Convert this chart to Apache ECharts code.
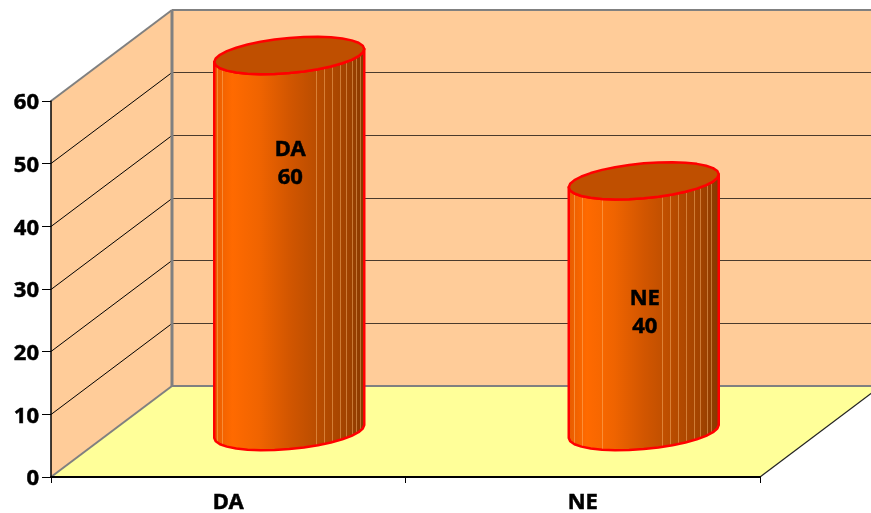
<!DOCTYPE html>
<html>
<head>
<meta charset="utf-8">
<style>html,body{margin:0;padding:0;background:#fff}#chart{width:871px;height:513px}</style>
<script src="https://cdn.jsdelivr.net/npm/echarts@6/dist/echarts.min.js"></script>
</head>
<body>
<div id="chart"></div>
<script>
// Chart values
const categories = ['DA', 'NE'];
const values = [60, 40];
const yTicks = [0, 10, 20, 30, 40, 50, 60];

// Projection of the box depth, and cylinder shape, in pixels
const DEPTH_X = 121, DEPTH_Y = -91;
const RX = 75, RY = 17.5, TILT = 6.5;
const FONT = '"Noto Sans", "Open Sans", sans-serif';

// Height on the value scale at which each data label sits
const labelLevels = [42.8, 18.9];
// Pale facet seams on the side of each cylinder, as offsets from its axis
const seams = [
  [-72, -67, 27, 35, 43, 51, 57, 63, 67, 71],
  [-70, -62, -42, 18, 26, 34, 42, 50, 56, 63, 67]
];
const sideStops = [
  [0, '#E85C00'], [0.12, '#FF6A00'], [0.3, '#F06400'], [0.5, '#D25600'],
  [0.7, '#B84C00'], [0.9, '#A04200'], [1, '#863800']
];

function wallsItem(params, api) {
  const rect = params.coordSys;
  const xL = rect.x, xR = rect.x + rect.width;
  const y0 = api.coord([0, 0])[1], yT = api.coord([0, yTicks[yTicks.length - 1]])[1];
  const line = (a, b, c, d, stroke, w) => ({
    type: 'line', shape: { x1: a, y1: b, x2: c, y2: d }, style: { stroke, lineWidth: w }
  });
  const poly = (points, fill) => ({
    type: 'polygon', shape: { points }, style: { fill, stroke: 'none' }
  });
  const children = [
    poly([[xL, y0], [xL, yT], [xL + DEPTH_X, yT + DEPTH_Y], [xL + DEPTH_X, y0 + DEPTH_Y]], '#FFCC99'),
    poly([[xL + DEPTH_X, yT + DEPTH_Y], [xR + DEPTH_X, yT + DEPTH_Y], [xR + DEPTH_X, y0 + DEPTH_Y], [xL + DEPTH_X, y0 + DEPTH_Y]], '#FFCC99'),
    poly([[xL, y0], [xR, y0], [xR + DEPTH_X, y0 + DEPTH_Y], [xL + DEPTH_X, y0 + DEPTH_Y]], '#FFFF99')
  ];
  yTicks.slice(1, -1).forEach(t => {
    const y = Math.floor(api.coord([0, t])[1]) + 0.5;
    children.push(line(xL, y, xL + DEPTH_X, y + DEPTH_Y, '#000', 1));
    children.push(line(xL + DEPTH_X, y + DEPTH_Y, xR + DEPTH_X, y + DEPTH_Y, '#4a3a2c', 1));
  });
  children.push(
    line(xL, yT, xL + DEPTH_X, yT + DEPTH_Y, '#808080', 2),
    line(xL, y0, xL + DEPTH_X, y0 + DEPTH_Y, '#808080', 2),
    line(xL + DEPTH_X, yT + DEPTH_Y, xL + DEPTH_X, y0 + DEPTH_Y, '#808080', 3),
    line(xL + DEPTH_X, yT + DEPTH_Y, xR + DEPTH_X, yT + DEPTH_Y, '#808080', 2),
    line(xL + DEPTH_X, y0 + DEPTH_Y, xR + DEPTH_X, y0 + DEPTH_Y, '#808080', 2),
    line(xR, y0, xR + DEPTH_X, y0 + DEPTH_Y, '#222', 1.2)
  );
  return { type: 'group', children };
}

function ringPoint(cx, cy, t) {
  return [cx + RX * Math.cos(t), cy + RY * Math.sin(t) - TILT * Math.cos(t)];
}
function frontY(cy, dx) {
  const c = dx / RX;
  return cy + RY * Math.sqrt(1 - c * c) - TILT * c;
}

function cylinderItem(params, api) {
  const idx = api.value(0);
  const top = api.coord([idx, api.value(1)]);
  const base = api.coord([idx, 0]);
  const cx = top[0] + DEPTH_X / 2 + 0.5;
  const topY = top[1] + DEPTH_Y / 2;
  const baseY = base[1] + DEPTH_Y / 2;
  const SEG = 32;

  // Side: front half of the top ring, then back along the front half of the base ring
  const side = [];
  for (let i = 0; i <= SEG / 2; i++) side.push(ringPoint(cx, baseY, Math.PI * 2 * i / SEG));
  for (let i = SEG / 2; i >= 0; i--) side.push(ringPoint(cx, topY, Math.PI * 2 * i / SEG));
  const ring = [];
  for (let i = 0; i < SEG; i++) ring.push(ringPoint(cx, topY, Math.PI * 2 * i / SEG));

  const children = [{
    type: 'polygon',
    shape: { points: side },
    style: {
      fill: {
        type: 'linear', x: 0, y: 0, x2: 1, y2: 0,
        colorStops: sideStops.map(s => ({ offset: s[0], color: s[1] }))
      },
      stroke: 'none'
    }
  }];
  seams[idx].forEach(dx => {
    const x = Math.round(cx + dx) + 0.5;
    children.push({
      type: 'line',
      shape: { x1: x, y1: frontY(topY, dx), x2: x, y2: frontY(baseY, dx) },
      style: { stroke: 'rgba(255,190,120,0.45)', lineWidth: 1 }
    });
  });
  children.push({
    type: 'polygon', shape: { points: side },
    style: { fill: 'none', stroke: '#FF0000', lineWidth: 2.5, lineJoin: 'round' }
  }, {
    type: 'polygon', shape: { points: ring },
    style: { fill: '#BF4F00', stroke: '#FF0000', lineWidth: 2.5, lineJoin: 'round' }
  });

  const labelY = api.coord([idx, labelLevels[idx]])[1] + DEPTH_Y / 2;
  children.push({
    type: 'text',
    style: {
      x: cx + 1, y: labelY,
      text: categories[idx] + '\n' + api.value(1),
      fill: '#000', font: 'bold 22px ' + FONT,
      stroke: '#000', lineWidth: 0.5,
      lineHeight: 28, align: 'center', verticalAlign: 'middle'
    },
    z2: 10
  });
  return { type: 'group', children };
}

const chart = echarts.init(document.getElementById('chart'), null, { renderer: 'canvas' });
const tickFont = {
  color: '#000', fontFamily: FONT, fontWeight: 'bold', fontSize: 22,
  textBorderColor: '#000', textBorderWidth: 0.5
};
chart.setOption({
  animation: false,
  backgroundColor: '#fff',
  grid: { left: 51, right: 111, top: 101, bottom: 36, containLabel: false, outerBoundsMode: 'none' },
  xAxis: {
    type: 'category',
    data: categories,
    z: 5,
    axisLine: { show: true, onZero: false, lineStyle: { color: '#000', width: 2 } },
    axisTick: { show: true, length: 6, lineStyle: { color: '#000', width: 1 } },
    axisLabel: Object.assign({ margin: 15 }, tickFont)
  },
  yAxis: {
    type: 'value',
    min: 0, max: 60, interval: 10,
    z: 5,
    splitLine: { show: false },
    axisLine: { show: true, lineStyle: { color: '#000', width: 1.5 } },
    axisTick: { show: true, length: 9, lineStyle: { color: '#000', width: 1 } },
    axisLabel: Object.assign({
      margin: 12,
      formatter: '{t|{value}}',
      rich: { t: Object.assign({ padding: [4, 0, 0, 0] }, tickFont) }
    }, tickFont)
  },
  series: [
    { type: 'custom', silent: true, z: 1, renderItem: wallsItem, data: [[0, 0]] },
    {
      type: 'custom', silent: true, z: 2, renderItem: cylinderItem,
      data: values.map((v, i) => [i, v]),
      encode: { x: 0, y: 1 }
    }
  ]
});
</script>
</body>
</html>
